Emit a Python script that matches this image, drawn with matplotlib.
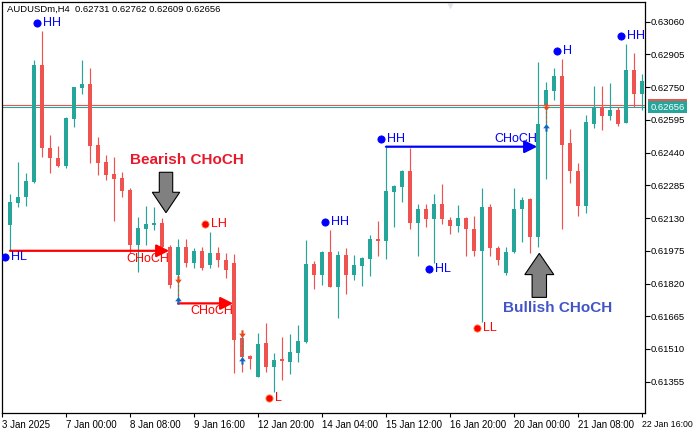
import matplotlib
matplotlib.use('Agg')
import matplotlib.pyplot as plt
import numpy as np
from matplotlib.patches import Rectangle, Polygon
from matplotlib.transforms import blended_transform_factory, offset_copy

plt.rcParams['font.family'] = ['Liberation Sans', 'DejaVu Sans']

header = 'AUDUSDm,H4  0.62731 0.62762 0.62609 0.62656'

# H4 candles, one per bar index
opens = [0.62097, 0.62203, 0.62228, 0.62302, 0.62855, 0.62460, 0.62413, 0.62378, 0.62599, 0.62748,
         0.62765, 0.62476, 0.62397, 0.62339, 0.62318, 0.62263, 0.62003, 0.62078, 0.62097, 0.62105,
         0.61994, 0.61860, 0.61994, 0.61916, 0.61974, 0.61908, 0.61963, 0.61931, 0.61919, 0.61561,
         0.61477, 0.61379, 0.61540, 0.61426, 0.61461, 0.61450, 0.61492, 0.61545, 0.61913, 0.61860,
         0.61969, 0.61805, 0.61955, 0.61860, 0.61903, 0.61936, 0.62031, 0.62023, 0.62255, 0.62279,
         0.62353, 0.62105, 0.62173, 0.62124, 0.62197, 0.62121, 0.62094, 0.62129, 0.62078, 0.61975,
         0.62181, 0.61990, 0.61871, 0.61971, 0.62172, 0.62220, 0.62042, 0.62666, 0.62733, 0.62803,
         0.62484, 0.62354, 0.62187, 0.62576, 0.62655, 0.62613, 0.62642, 0.62582, 0.62831, 0.62716]
highs = [0.62243, 0.62397, 0.62342, 0.62879, 0.63016, 0.62523, 0.62471, 0.62610, 0.62752, 0.62879,
         0.62839, 0.62515, 0.62429, 0.62421, 0.62350, 0.62271, 0.62137, 0.62187, 0.62181, 0.62129,
         0.62003, 0.62031, 0.62031, 0.61990, 0.61994, 0.62066, 0.61994, 0.61963, 0.61960, 0.61592,
         0.61480, 0.61587, 0.61632, 0.61492, 0.61568, 0.61581, 0.61624, 0.62026, 0.61927, 0.61972,
         0.62074, 0.61974, 0.61990, 0.61955, 0.61947, 0.62050, 0.62118, 0.62468, 0.62287, 0.62358,
         0.62462, 0.62197, 0.62197, 0.62244, 0.62291, 0.62134, 0.62192, 0.62134, 0.62140, 0.62274,
         0.62197, 0.61998, 0.61994, 0.62271, 0.62231, 0.62224, 0.62867, 0.62773, 0.62839, 0.62882,
         0.62550, 0.62392, 0.62618, 0.62755, 0.62755, 0.62771, 0.62658, 0.62954, 0.62910, 0.62812]
lows = [0.61975, 0.62184, 0.62187, 0.62296, 0.62421, 0.62342, 0.62373, 0.62369, 0.62563, 0.62718,
        0.62392, 0.62334, 0.62310, 0.62118, 0.62231, 0.61963, 0.61876, 0.62003, 0.62074, 0.61987,
        0.61797, 0.61740, 0.61900, 0.61892, 0.61884, 0.61892, 0.61900, 0.61845, 0.61395, 0.61402,
        0.61414, 0.61376, 0.61402, 0.61308, 0.61363, 0.61392, 0.61450, 0.61538, 0.61793, 0.61813,
        0.61804, 0.61658, 0.61769, 0.61837, 0.61810, 0.61857, 0.61950, 0.61936, 0.62089, 0.62208,
        0.62078, 0.61950, 0.62089, 0.61919, 0.62102, 0.62055, 0.62066, 0.61950, 0.61950, 0.61639,
        0.61950, 0.61908, 0.61860, 0.61966, 0.62018, 0.61966, 0.61994, 0.62315, 0.62689, 0.62077,
        0.62295, 0.62140, 0.62153, 0.62555, 0.62547, 0.62595, 0.62566, 0.62579, 0.62658, 0.62642]
closes = [0.62208, 0.62231, 0.62307, 0.62855, 0.62460, 0.62413, 0.62378, 0.62603, 0.62749, 0.62765,
          0.62473, 0.62392, 0.62334, 0.62315, 0.62258, 0.62003, 0.62082, 0.62101, 0.62105, 0.61994,
          0.61813, 0.61994, 0.61916, 0.61974, 0.61892, 0.61963, 0.61931, 0.61884, 0.61553, 0.61474,
          0.61461, 0.61534, 0.61426, 0.61458, 0.61453, 0.61497, 0.61549, 0.61913, 0.61860, 0.61969,
          0.61805, 0.61955, 0.61860, 0.61908, 0.61941, 0.62031, 0.62023, 0.62258, 0.62282, 0.62353,
          0.62105, 0.62173, 0.62124, 0.62197, 0.62124, 0.62094, 0.62129, 0.62077, 0.61975, 0.62181,
          0.61987, 0.61931, 0.61971, 0.62172, 0.62216, 0.62042, 0.62576, 0.62737, 0.62803, 0.62476,
          0.62354, 0.62187, 0.62584, 0.62655, 0.62613, 0.62642, 0.62576, 0.62831, 0.62716, 0.62779]

time_ticks = [-1, 7, 15, 23, 31, 39, 47, 55, 63, 71, 79]
time_labels = ['3 Jan 2025', '7 Jan 00:00', '8 Jan 08:00', '9 Jan 16:00', '12 Jan 20:00',
               '14 Jan 04:00', '15 Jan 12:00', '16 Jan 20:00', '20 Jan 00:00', '21 Jan 08:00',
               '22 Jan 16:00']
price_ticks = [0.61355, 0.61510, 0.61665, 0.61820, 0.61975, 0.62130, 0.62285, 0.62440,
               0.62595, 0.62750, 0.62905, 0.63060]

bid_price = 0.62656
ask_price = 0.62665

# swing structure labels
swing_bars = [4, 0, 25, 33, 40, 47, 53, 59, 69, 77]
swing_labels = ['HH', 'HL', 'LH', 'L', 'HH', 'HH', 'HL', 'LL', 'H', 'HH']

# change-of-character breaks
choch_start = [0, 21, 47]
choch_end = [19.9, 27.9, 65.9]
choch_level = [0.61975, 0.61726, 0.62468]
choch_colors = ['#FF0000', '#FF0000', '#0000FF']
choch_above = [False, False, True]

# small sweep markers
sweep_bars = [21, 29, 67]
sweep_top = [0.61837, 0.61581, 0.62655]
sweep_bottom = [0.61742, 0.61458, 0.62563]

bull_c = '#26A69A'
bear_c = '#EF5350'

fig = plt.figure(figsize=(6.95, 4.28), dpi=100)
ax = fig.add_axes([2 / 695, 1 - 413.3 / 428, 643 / 695, 411 / 428])
ax.set_xlim(-1, 79.375)
ax.set_ylim(0.612054, 0.631519)
px = (0.631519 - 0.612054) / 411.0

# bid / ask lines
ax.axhline(ask_price, color=bear_c, lw=0.8, zorder=1)
ax.axhline(bid_price, color=bull_c, lw=0.8, zorder=1)

for k in range(len(opens)):
    o, h, l, c = opens[k], highs[k], lows[k], closes[k]
    col = bull_c if c >= o else bear_c
    ax.vlines(k, l, h, color=col, lw=0.85, zorder=2)
    ax.add_patch(Rectangle((k - 0.31, min(o, c)), 0.62, max(abs(c - o), px),
                           facecolor=col, edgecolor='none', zorder=3))

# swing points
for b, lab in zip(swing_bars, swing_labels):
    is_high = lab[-1] == 'H'
    col = '#0000FF' if lab[0] == 'H' else '#FF0000'
    price = highs[b] if is_high else lows[b]
    dy = 8 if is_high else -6
    tr_dot = offset_copy(ax.transData, fig=fig, x=-5.5, y=dy, units='dots')
    tr_txt = offset_copy(ax.transData, fig=fig, x=0.5, y=dy, units='dots')
    ax.plot([b], [price], 'o', ms=5.2, color=col, mec=col if col == '#0000FF' else '#FF8C40',
            mew=0.6, transform=tr_dot, zorder=6)
    ax.text(b, price, lab, color=col, fontsize=9, ha='left', va='center',
            transform=tr_txt, zorder=6)

# CHoCH arrows
for s, e, lvl, col, above in zip(choch_start, choch_end, choch_level, choch_colors, choch_above):
    ax.annotate('', xy=(e, lvl), xytext=(s, lvl),
                arrowprops=dict(arrowstyle='-|>', color=col, lw=1.6, mutation_scale=19,
                                shrinkA=0, shrinkB=0), zorder=5)
    tr = offset_copy(ax.transData, fig=fig, x=0, y=2 if above else -2, units='dots')
    ax.text(e, lvl, 'CHoCH', color=col, fontsize=9, ha='right',
            va='bottom' if above else 'top', transform=tr, zorder=6)

# sweep markers
down_arrow = [(-0.25, 1), (0.25, 1), (0.25, 0.2), (0.8, 0.2), (0, -0.8), (-0.8, 0.2), (-0.25, 0.2)]
up_arrow = [(x, -y) for x, y in down_arrow]
for b, t, btm in zip(sweep_bars, sweep_top, sweep_bottom):
    ax.vlines(b, btm, t, color=bull_c, lw=0.8, zorder=4)
    ax.vlines(b, btm, t, color='#E64A19', lw=0.8, linestyles=(0, (2, 2)), zorder=4)
    ax.plot([b], [t], marker=down_arrow, ms=6, color='#E64A19', mec='none', zorder=5)
    ax.plot([b], [btm], marker=up_arrow, ms=6, color='#1565C0', mec='none', zorder=5)


def to_data(disp_pts):
    return ax.transData.inverted().transform(disp_pts)


# bearish block arrow above bar 19
tip = ax.transData.transform((19, highs[19])) + np.array([4, 5.6])
verts = np.array([(-6.7, 40.4), (6.7, 40.4), (6.7, 20.4), (13.7, 20.4), (0, 0),
                  (-13.7, 20.4), (-6.7, 20.4)]) + tip
ax.add_patch(Polygon(to_data(verts), closed=True, facecolor='#808080', edgecolor='black',
                     lw=0.8, zorder=7))
tx, ty = to_data([tip + np.array([-36, 52.7])])[0]
ax.text(tx, ty, 'Bearish CHoCH', color='#E8192C', fontsize=11, fontweight='bold',
        ha='left', va='center', zorder=7)

# bullish block arrow below bar 66
tip = ax.transData.transform((66, lows[66])) + np.array([1.3, -6.6])
verts = np.array([(-7.2, -44), (7.2, -44), (7.2, -21.2), (14.5, -21.2), (0, 0),
                  (-14.5, -21.2), (-7.2, -21.2)]) + tip
ax.add_patch(Polygon(to_data(verts), closed=True, facecolor='#808080', edgecolor='black',
                     lw=0.8, zorder=7))
tx, ty = to_data([tip + np.array([-36.3, -54.5])])[0]
ax.text(tx, ty, 'Bullish CHoCH', color='#4254C8', fontsize=11, fontweight='bold',
        ha='left', va='center', zorder=7)

# chart shift marker
ax.plot([55], [0.631519 - 3.5 * px], marker='v', ms=5, color='#E2E2EA', mec='none',
        clip_on=False, zorder=1)

# axes styling
for sp in ax.spines.values():
    sp.set_color('black')
    sp.set_linewidth(0.9)
ax.yaxis.tick_right()
ax.set_yticks(price_ticks)
ax.set_yticklabels(['%.5f' % p for p in price_ticks])
ax.tick_params(axis='y', direction='out', length=3.6, width=0.8, pad=0.8, labelsize=6.8)
ax.set_xticks(time_ticks)
ax.set_xticklabels(time_labels, ha='left')
ax.tick_params(axis='x', direction='out', length=3, width=0.8, pad=1.5, labelsize=7.0)
ax.get_xticklabels()[-1].set_fontsize(6.3)

# current price label on the axis
trans = blended_transform_factory(fig.transFigure, ax.transData)
box_h = 11.4 * px
ax.add_patch(Rectangle((0.9328, ask_price - box_h / 2), 0.0553, box_h, transform=trans,
                       facecolor=bear_c, edgecolor='none', clip_on=False, zorder=8))
ax.add_patch(Rectangle((0.9328, bid_price - box_h / 2), 0.0553, box_h, transform=trans,
                       facecolor=bull_c, edgecolor='none', clip_on=False, zorder=9))
ax.text(0.9604, bid_price, '%.5f' % bid_price, transform=trans, ha='center', va='center',
        color='white', fontsize=6.8, clip_on=False, zorder=10)

fig.text(7 / 695, 1 - 9 / 428, header, fontsize=6.8, ha='left', va='center', color='black')

fig.savefig('out.png', dpi=100)
